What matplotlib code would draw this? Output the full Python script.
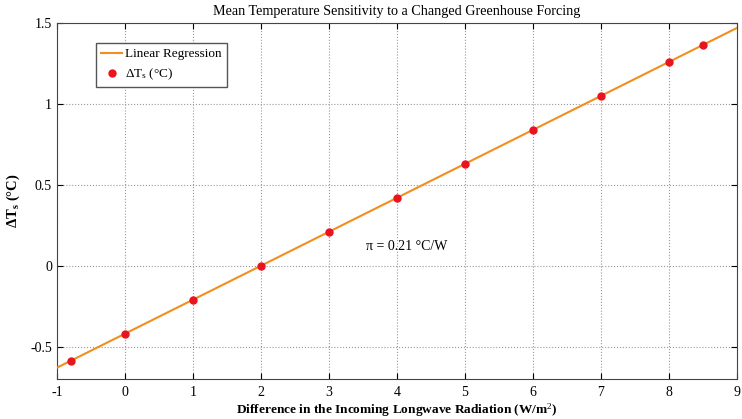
import numpy as np
import matplotlib
matplotlib.use("Agg")
import matplotlib.pyplot as plt

plt.rcParams['font.family'] = ['Liberation Serif', 'DejaVu Serif']
plt.rcParams['mathtext.fontset'] = 'custom'
plt.rcParams['mathtext.rm'] = 'Liberation Serif'
plt.rcParams['mathtext.it'] = 'Liberation Serif'
plt.rcParams['mathtext.bf'] = 'Liberation Serif:bold'

# data
forcing = [-0.8, 0, 1, 2, 3, 4, 5, 6, 7, 8, 8.5]
delta_ts = [-0.588, -0.42, -0.21, 0.0, 0.21, 0.42, 0.63, 0.84, 1.05, 1.26, 1.365]
slope = 0.21
intercept = -0.42
fit_x = [-1, 9]

fig = plt.figure(figsize=(7.42, 4.19), dpi=100)
ax = fig.add_axes([0.0768, 0.0955, 0.9165, 0.8495])

fit_y = [slope * x + intercept for x in fit_x]
ax.plot(fit_x, fit_y, color='#F28E1E', lw=1.5, label='Linear Regression', zorder=3)
ax.plot(forcing, delta_ts, 'o', color='#E8141E', ms=5, label=r'$\Delta$T$_s$ (°C)', zorder=4)

ax.set_xlim(-1, 9)
ax.set_ylim(-0.7, 1.5)
ax.set_xticks(range(-1, 10))
ax.set_yticks([-0.5, 0, 0.5, 1, 1.5])
ax.set_yticklabels(['-0.5', '0', '0.5', '1', '1.5'])
ax.set_xticklabels([str(i) if i >= 0 else '-1' for i in range(-1, 10)])
ax.tick_params(direction='in', top=True, right=True, labelsize=10, length=4)
ax.tick_params(axis='x', pad=5)
ax.grid(True, linestyle=':', color='#999999', lw=0.8)
for s in ax.spines.values():
    s.set_color('#444444')

ax.set_title('Mean Temperature Sensitivity to a Changed Greenhouse Forcing', fontsize=10.2, pad=6)
ax.set_xlabel(r'Difference in the Incoming Longwave Radiation (W/m$^{2}$)', fontsize=9.6,
              fontweight='bold', labelpad=2)
ax.set_ylabel(r'$\mathbf{\Delta T_s}$ (°C)', fontsize=10.5, fontweight='bold')
ax.yaxis.set_label_coords(-0.052, 0.5)

ax.text(3.55, 0.1, 'π = 0.21 °C/W', fontsize=10)

leg = ax.legend(loc='upper left', bbox_to_anchor=(0.057, 0.944), borderaxespad=0,
                fontsize=9.5, fancybox=False, framealpha=1, edgecolor='#555555',
                handlelength=1.6, handletextpad=0.25, borderpad=0.4, labelspacing=0.45)

fig.savefig('out.png', dpi=100)
